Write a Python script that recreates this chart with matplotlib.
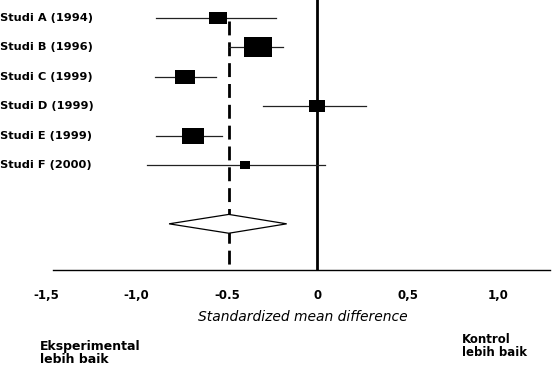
import numpy as np
import matplotlib
matplotlib.use("Agg")
import matplotlib.pyplot as plt
from matplotlib.patches import Polygon

# Data studi (standardized mean difference, CI, bobot %)
studi = ["Studi A (1994)", "Studi B (1996)", "Studi C (1999)",
         "Studi D (1999)", "Studi E (1999)", "Studi F (2000)"]
smd = [-0.55, -0.33, -0.73, 0.00, -0.69, -0.40]
ci_low = [-0.89, -0.49, -0.90, -0.30, -0.89, -0.94]
ci_high = [-0.23, -0.19, -0.56, 0.27, -0.53, 0.04]
bobot = [12.6, 33.0, 16.2, 11.8, 21.6, 4.7]

pooled = -0.49
pooled_low = -0.82
pooled_high = -0.17

xticks = [-1.5, -1.0, -0.5, 0, 0.5, 1.0]
xticklabels = ["-1,5", "-1,0", "-0.5", "0", "0,5", "1,0"]

plt.rcParams["font.family"] = ["DejaVu Sans"]

fig = plt.figure(figsize=(5.56, 3.66), dpi=100)
ax = fig.add_axes([46 / 556, 1 - 270 / 366, 504 / 556, 270 / 366])

rows = np.arange(len(studi))
diamond_row = 7

# kotak persegi panjang sebagai marker
rect = [(-1.45, -1), (1.45, -1), (1.45, 1), (-1.45, 1), (-1.45, -1)]

for i in rows:
    ax.plot([ci_low[i], ci_high[i]], [i, i], color="#222222", lw=0.9, zorder=2)
    ax.plot(smd[i], i, marker=rect, markersize=3.5 * np.sqrt(bobot[i]),
            color="black", markeredgewidth=0, zorder=3)

# garis nol dan garis efek gabungan
ax.axvline(0, color="black", lw=2.0, zorder=1)
ax.plot([pooled, pooled], [0.1, 9], color="black", lw=2.0,
        dashes=(5, 2.5), zorder=1)

# diamond
dh = 0.32
ax.add_patch(Polygon([(pooled_low, diamond_row), (pooled, diamond_row - dh),
                      (pooled_high, diamond_row), (pooled, diamond_row + dh)],
                     closed=True, facecolor="white", edgecolor="black",
                     lw=0.9, zorder=4))

ax.set_xlim(-1.5, 1.285)
ax.set_ylim(8.57, -0.61)
ax.set_yticks([])
ax.set_xticks(xticks)
ax.set_xticklabels(xticklabels, fontsize=8.5, fontweight="bold")
ax.tick_params(axis="x", length=0, pad=14)
for s in ["top", "right", "left"]:
    ax.spines[s].set_visible(False)
ax.spines["bottom"].set_linewidth(1.0)
ax.spines["bottom"].set_bounds(-1.46, 1.285)

# label studi di kiri
trans = matplotlib.transforms.blended_transform_factory(fig.transFigure, ax.transData)
for i, s in enumerate(studi):
    ax.text(0.0, i, s, transform=trans, ha="left", va="center",
            fontsize=8.2, fontweight="bold")

fig.text(303 / 556, 1 - 317 / 366, "Standardized mean difference",
         ha="center", va="center", fontsize=10, style="italic")
fig.text(40 / 556, 1 - 353 / 366, "Eksperimental\nlebih baik",
         ha="left", va="center", fontsize=9, fontweight="bold", linespacing=1.0)
fig.text(462 / 556, 1 - 346 / 366, "Kontrol\nlebih baik",
         ha="left", va="center", fontsize=8.5, fontweight="bold", linespacing=1.0)

fig.savefig("out.png", dpi=100)
